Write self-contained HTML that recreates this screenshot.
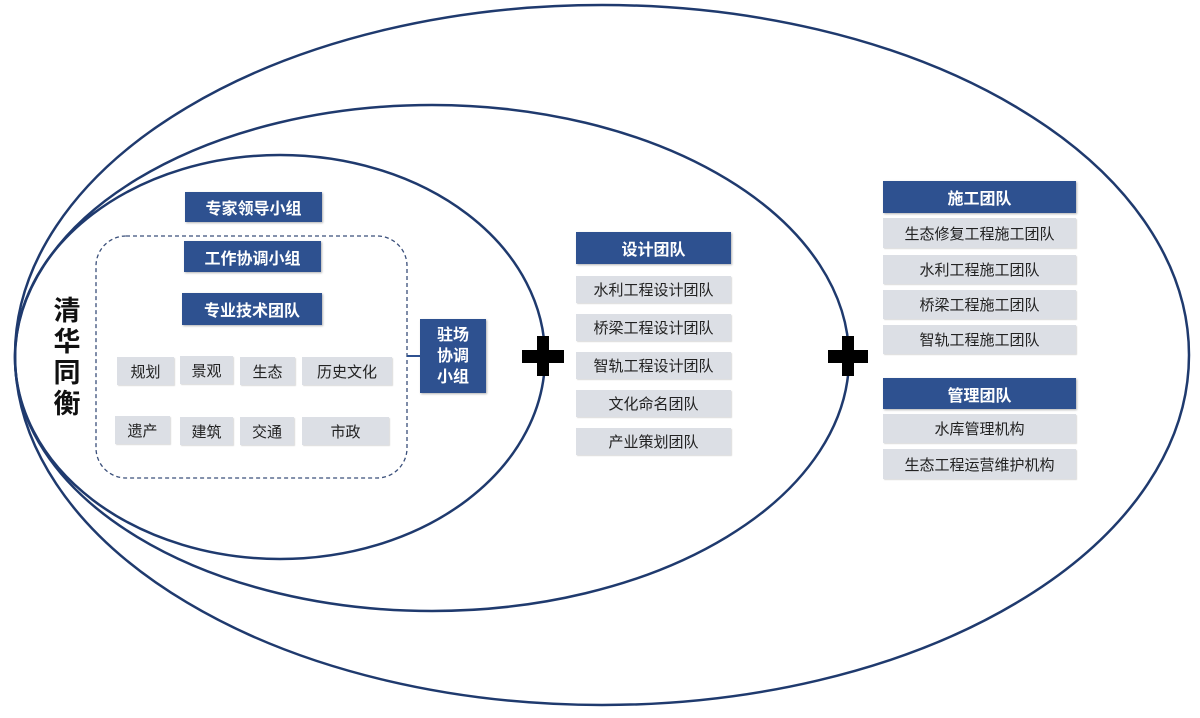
<!DOCTYPE html>
<html><head><meta charset="utf-8"><style>
html,body{margin:0;padding:0;background:#fff;width:1200px;height:718px;overflow:hidden;position:relative;font-family:"Liberation Sans","Noto Sans CJK SC",sans-serif}
.b{position:absolute;background:#2e5190;color:#fff;font-size:16px;font-weight:bold;display:flex;align-items:center;justify-content:center;box-shadow:1px 1px 2px rgba(0,0,0,.3)}
.g{position:absolute;background:#dcdfe5;color:#222;font-size:15px;display:flex;align-items:center;justify-content:center;box-shadow:1px 1px 1px rgba(0,0,0,.15)}
</style></head><body>
<svg width="1200" height="718" style="position:absolute;left:0;top:0">
<g fill="none" stroke="#1f3a6e" stroke-width="2.5">
<ellipse cx="602" cy="355" rx="587" ry="350"/>
<ellipse cx="432" cy="358" rx="417" ry="253"/>
<ellipse cx="280" cy="357" rx="265" ry="202"/>
</g>
<rect x="96" y="236" width="311" height="242" rx="30" fill="none" stroke="#3a4f7a" stroke-width="1.3" stroke-dasharray="4,3"/>
<line x1="407" y1="356" x2="420" y2="356" stroke="#2e5190" stroke-width="2"/>
<g fill="#000">
<rect x="522" y="350" width="42" height="13"/><rect x="537" y="336" width="12" height="40"/>
<rect x="828" y="350" width="40" height="13"/><rect x="842" y="336" width="12" height="40"/>
</g>
</svg>
<div style="position:absolute;left:52px;top:296px;width:30px;font-size:27px;font-weight:bold;line-height:31px;color:#111;text-align:center">清华同衡</div>
<div class="b" style="left:185px;top:192px;width:137px;height:30px">专家领导小组</div>
<div class="b" style="left:184px;top:241px;width:137px;height:31px">工作协调小组</div>
<div class="b" style="left:182px;top:293px;width:140px;height:32px">专业技术团队</div>
<div class="g" style="left:117px;top:357px;width:57px;height:28px">规划</div>
<div class="g" style="left:180px;top:356px;width:53px;height:28px">景观</div>
<div class="g" style="left:240px;top:357px;width:55px;height:28px">生态</div>
<div class="g" style="left:302px;top:357px;width:90px;height:28px">历史文化</div>
<div class="g" style="left:115px;top:416px;width:55px;height:28px">遗产</div>
<div class="g" style="left:180px;top:417px;width:53px;height:28px">建筑</div>
<div class="g" style="left:240px;top:417px;width:54px;height:28px">交通</div>
<div class="g" style="left:302px;top:417px;width:87px;height:28px">市政</div>
<div class="b" style="left:420px;top:319px;width:66px;height:74px;line-height:21px;text-align:center">驻场<br>协调<br>小组</div>
<div class="b" style="left:576px;top:232px;width:155px;height:32px">设计团队</div>
<div class="g" style="left:576px;top:276px;width:155px;height:27px">水利工程设计团队</div>
<div class="g" style="left:576px;top:314px;width:155px;height:27px">桥梁工程设计团队</div>
<div class="g" style="left:576px;top:352px;width:155px;height:27px">智轨工程设计团队</div>
<div class="g" style="left:576px;top:390px;width:155px;height:27px">文化命名团队</div>
<div class="g" style="left:576px;top:428px;width:155px;height:27px">产业策划团队</div>
<div class="b" style="left:883px;top:181px;width:193px;height:32px">施工团队</div>
<div class="g" style="left:883px;top:218px;width:193px;height:30px">生态修复工程施工团队</div>
<div class="g" style="left:883px;top:255px;width:193px;height:29px">水利工程施工团队</div>
<div class="g" style="left:883px;top:290px;width:193px;height:29px">桥梁工程施工团队</div>
<div class="g" style="left:883px;top:325px;width:193px;height:29px">智轨工程施工团队</div>
<div class="b" style="left:883px;top:378px;width:193px;height:31px">管理团队</div>
<div class="g" style="left:883px;top:414px;width:193px;height:29px">水库管理机构</div>
<div class="g" style="left:883px;top:449px;width:193px;height:30px">生态工程运营维护机构</div>
</body></html>
